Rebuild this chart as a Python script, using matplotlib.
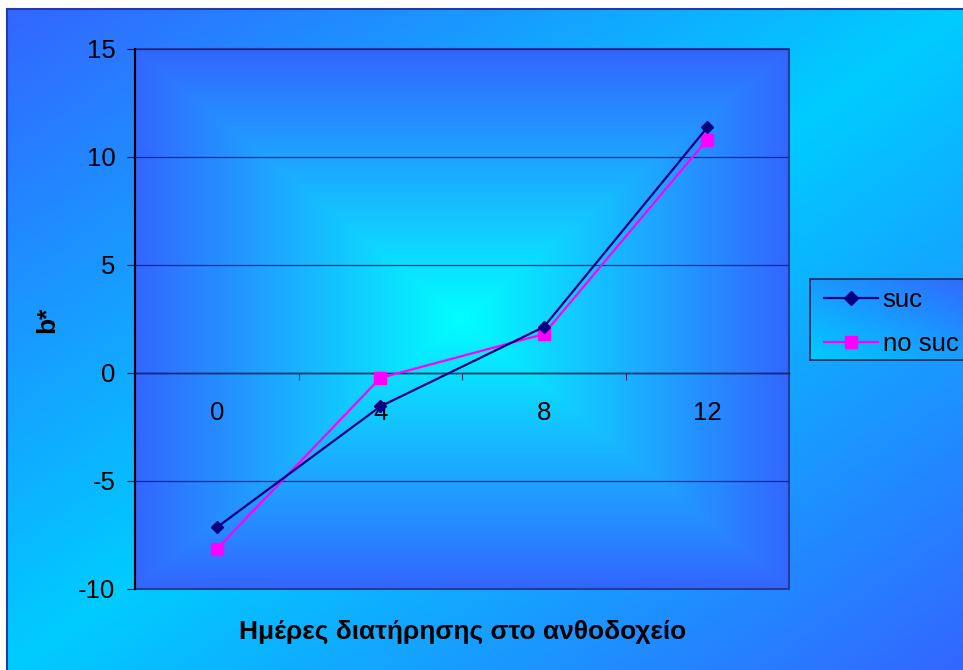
import numpy as np
import matplotlib
matplotlib.use('Agg')
import matplotlib.pyplot as plt
from matplotlib.patches import Rectangle

plt.rcParams['font.family'] = ['Liberation Sans', 'DejaVu Sans']
plt.rcParams['axes.unicode_minus'] = False

days = ['0', '4', '8', '12']
suc = [-7.15, -1.55, 2.13, 11.37]
no_suc = [-8.15, -0.23, 1.80, 10.81]

blue = np.array([0x33, 0x66, 0xFF]) / 255
cyan_outer = np.array([0x00, 0xCC, 0xFF]) / 255
cyan_inner = np.array([0x00, 0xFF, 0xFF]) / 255

W, H = 963, 670
fig = plt.figure(figsize=(W / 100, H / 100), dpi=100, facecolor='white')


def blend(c0, c1, t):
    t = np.clip(t, 0, 1)[..., None]
    return c0 * (1 - t) + c1 * t


# chart area: cyan along the anti-diagonal, blue towards TL / BR corners
bg = fig.add_axes([7 / W, 0, 1 - 7 / W, (H - 9) / H], zorder=-10)
u, v = np.meshgrid(np.linspace(0, 1, 400), np.linspace(0, 1, 300))
bg.imshow(blend(cyan_outer, blue, np.abs(u + v - 1)), extent=[0, 1, 0, 1],
          aspect='auto', origin='upper', interpolation='bilinear')
bg.set_xlim(0, 1)
bg.set_ylim(0, 1)
bg.set_xticks([])
bg.set_yticks([])
for side in ['right', 'bottom']:
    bg.spines[side].set_visible(False)
for side in ['top', 'left']:
    bg.spines[side].set_color('#2a3a9a')
    bg.spines[side].set_linewidth(1.5)

# plot area
ax = fig.add_axes([135 / W, 81 / H, 654 / W, 540 / H])
ax.set_facecolor('none')
px, py = np.meshgrid(np.linspace(-1, 1, 400), np.linspace(-1, 1, 300))
ax.imshow(blend(cyan_inner, blue, np.maximum(np.abs(px), np.abs(py))),
          extent=[0, 1, 0, 1], transform=ax.transAxes, aspect='auto',
          interpolation='bilinear', zorder=0)

x = np.arange(len(days))
l1, = ax.plot(x, suc, color='#000080', lw=1.6, marker='D', ms=6.5,
              mfc='#000080', mec='#000080', label='suc', zorder=4)
l2, = ax.plot(x, no_suc, color='#ff00ff', lw=1.6, marker='s', ms=8,
              mfc='#ff00ff', mec='#ff00ff', label='no suc', zorder=3)

ax.set_xlim(-0.5, 3.5)
ax.set_ylim(-10, 15)
ax.set_yticks(np.arange(-10, 16, 5))
ax.yaxis.grid(True, color='#1c2480', lw=0.9)
ax.set_axisbelow(False)
for gl in ax.yaxis.get_gridlines():
    gl.set_zorder(1)

ax.spines['bottom'].set_position(('data', 0))
ax.spines['bottom'].set_color('black')
ax.spines['bottom'].set_linewidth(1.0)
ax.spines['left'].set_color('black')
ax.spines['left'].set_linewidth(1.5)
ax.spines['top'].set_visible(False)
ax.spines['right'].set_visible(False)
ax.add_patch(Rectangle((0, 0), 1, 1, transform=ax.transAxes, fill=False,
                       edgecolor='#2a3a9a', lw=1.5, clip_on=False, zorder=2))

ax.set_xticks([0.5, 1.5, 2.5])
ax.set_xticklabels([])
ax.set_xticks(x, minor=True)
ax.set_xticklabels(days, minor=True)
ax.tick_params(axis='x', which='major', direction='out', length=5,
               color='#333366')
ax.tick_params(axis='x', which='minor', length=0, pad=20, labelsize=18.5)
ax.tick_params(axis='y', direction='out', length=6, pad=8, labelsize=18.5)

fig.text(463 / W, 1 - 632 / H, 'Ημέρες διατήρησης στο ανθοδοχείο',
         ha='center', va='center', fontsize=19, fontweight='bold')
fig.text(47 / W, 1 - 320 / H, 'b*', ha='center', va='center', rotation=90,
         fontsize=19, fontweight='bold')

# legend box with its own gradient
lg = fig.add_axes([810 / W, (H - 360) / H, 170 / W, 81 / H], zorder=5)
lu, lv = np.meshgrid(np.linspace(0, 1, 100), np.linspace(0, 1, 60))
lg.imshow(blend(cyan_outer, blue, (lu + (1 - lv)) / 2), extent=[0, 1, 0, 1],
          aspect='auto', origin='upper', interpolation='bilinear')
lg.set_xlim(0, 1)
lg.set_ylim(0, 1)
lg.set_xticks([])
lg.set_yticks([])
for s in lg.spines.values():
    s.set_color('#1a2a5a')
    s.set_linewidth(1.2)
lg.legend(handles=[l1, l2], loc='center left', bbox_to_anchor=(0.02, 0.47),
          frameon=False, fontsize=18.5, handlelength=2.1, handletextpad=0.2,
          labelspacing=0.8, borderaxespad=0, markerscale=1.15)

fig.savefig('out.png', dpi=100, facecolor='white')
